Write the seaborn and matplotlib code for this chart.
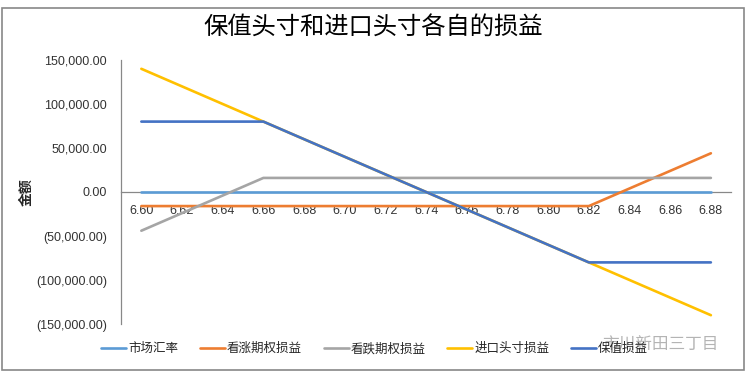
import matplotlib
matplotlib.use("Agg")
import matplotlib.pyplot as plt
import matplotlib.ticker as mticker
import pandas as pd
import seaborn as sns
from matplotlib.patches import Rectangle

# Category axis: spot rate at expiry
rates = ["6.60", "6.62", "6.64", "6.66", "6.68", "6.70", "6.72", "6.74",
         "6.76", "6.78", "6.80", "6.82", "6.84", "6.86", "6.88"]

# Series values
market_rate = [6.60, 6.62, 6.64, 6.66, 6.68, 6.70, 6.72, 6.74,
               6.76, 6.78, 6.80, 6.82, 6.84, 6.86, 6.88]
call_pnl = [-16000, -16000, -16000, -16000, -16000, -16000, -16000, -16000,
            -16000, -16000, -16000, -16000, 4000, 24000, 44000]
put_pnl = [-44000, -24000, -4000, 16000, 16000, 16000, 16000, 16000,
           16000, 16000, 16000, 16000, 16000, 16000, 16000]
import_pnl = [140000, 120000, 100000, 80000, 60000, 40000, 20000, 0,
              -20000, -40000, -60000, -80000, -100000, -120000, -140000]
hedge_pnl = [80000, 80000, 80000, 80000, 60000, 40000, 20000, 0,
             -20000, -40000, -60000, -80000, -80000, -80000, -80000]

series_names = ["市场汇率", "看涨期权损益", "看跌期权损益", "进口头寸损益", "保值损益"]
series_values = [market_rate, call_pnl, put_pnl, import_pnl, hedge_pnl]
colors = ["#5B9BD5", "#ED7D31", "#A5A5A5", "#FFC000", "#4472C4"]

rows = []
for name, vals in zip(series_names, series_values):
    for i, v in enumerate(vals):
        rows.append({"idx": i, "value": v, "series": name})
df = pd.DataFrame(rows)

sns.set_style("white")
plt.rcParams["font.family"] = ["Noto Sans CJK SC", "DejaVu Sans"]

fig = plt.figure(figsize=(7.46, 3.75), dpi=100)
ax = fig.add_axes([0.1622, 0.136, 0.818, 0.704])

sns.lineplot(data=df, x="idx", y="value", hue="series", hue_order=series_names,
             palette=dict(zip(series_names, colors)), linewidth=1.9,
             sort=False, ax=ax, legend=False, zorder=3)

ax.set_xlim(-0.5, len(rates) - 0.5)
ax.set_ylim(-150000, 150000)
ax.yaxis.set_major_locator(mticker.MultipleLocator(50000))


def money(v, pos):
    if v < 0:
        return f"({-v:,.2f})"
    return f"{v:,.2f}"


ax.yaxis.set_major_formatter(mticker.FuncFormatter(money))
ax.set_xticks(range(len(rates)))
ax.set_xticklabels(rates)
ax.tick_params(axis="both", length=0, labelsize=9, colors="#333333",
               labelfontfamily="Liberation Sans")
ax.tick_params(axis="y", pad=10)
ax.tick_params(axis="x", pad=9)

for s in ["top", "right"]:
    ax.spines[s].set_visible(False)
ax.spines["bottom"].set_position(("data", 0))
for s in ["bottom", "left"]:
    ax.spines[s].set_color("#888888")
    ax.spines[s].set_linewidth(0.9)
    ax.spines[s].set_zorder(1)
ax.set_xlabel("")
ax.set_ylabel("")

fig.text(27 / 746, 1 - 192 / 375, "金额", rotation=90, ha="center", va="center",
         fontsize=10, fontweight="bold")

fig.text(0.5, 0.928, "保值头寸和进口头寸各自的损益", ha="center", va="center",
         fontsize=17.5, color="black")

handles = [plt.Line2D([], [], color=c, lw=1.9) for c in colors]
fig.legend(handles, series_names, loc="center", bbox_to_anchor=(0.502, 0.07),
           ncol=5, frameon=False, fontsize=9, handlelength=2.0,
           handletextpad=0.15, columnspacing=1.75)

# watermark overlay from the source screenshot
fig.text(0.885, 0.08, "市川新田三丁目", ha="center", va="center",
         fontsize=12, color="#777777", alpha=0.55)

# outer chart border
fig.add_artist(Rectangle((2 / 746, 5 / 375), 742 / 746, 362 / 375,
                         transform=fig.transFigure, fill=False,
                         edgecolor="#888888", linewidth=1.2))

fig.savefig("out.png", dpi=100)
